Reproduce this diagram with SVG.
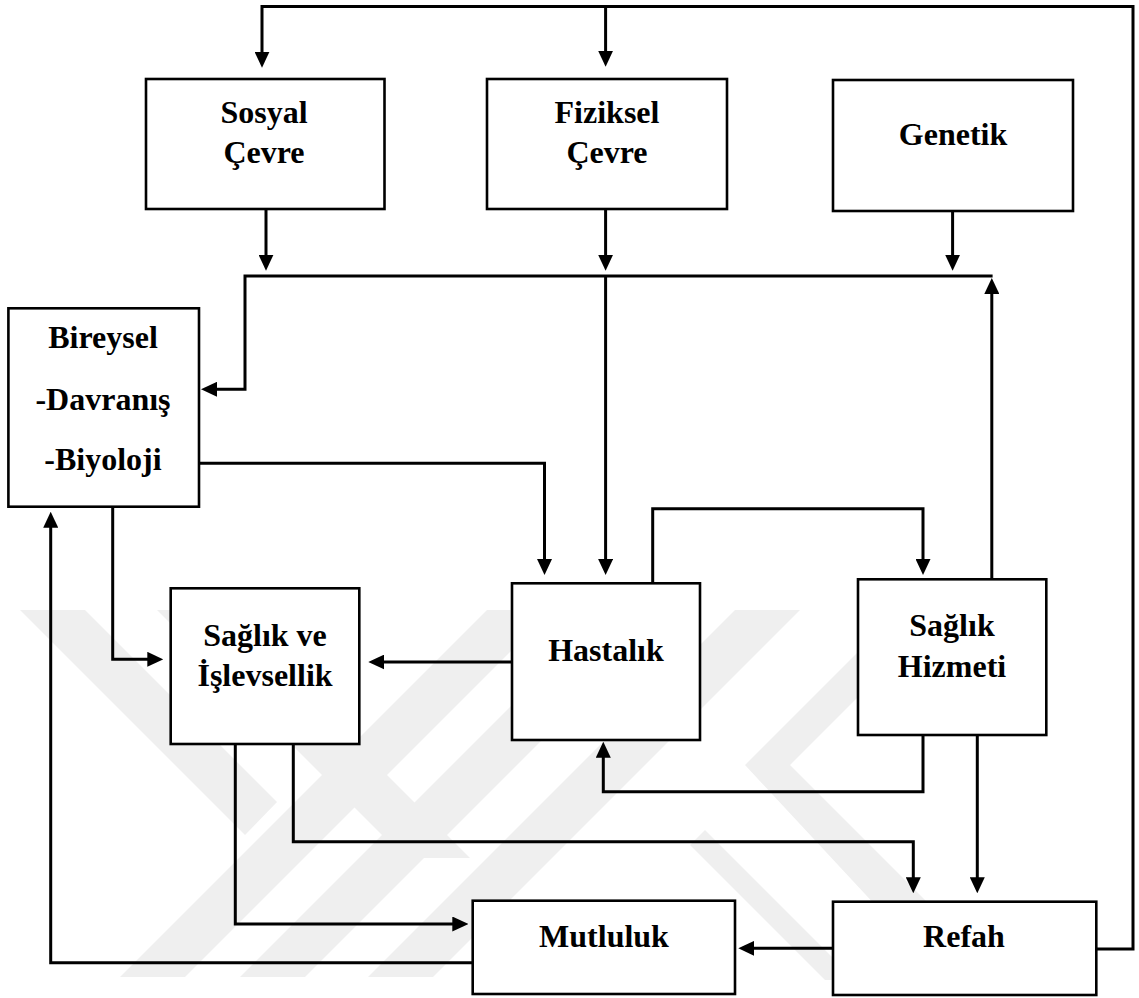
<svg xmlns="http://www.w3.org/2000/svg" width="1139" height="998" viewBox="0 0 1139 998">
  <style>
    .box { fill: #ffffff; stroke: #000000; stroke-width: 2.6; }
    .lbl { font-family: "Liberation Serif", "Times New Roman", serif; font-weight: bold; font-size: 32px; fill: #000000; text-anchor: middle; }
    .wire { fill: none; stroke: #000000; stroke-width: 3; stroke-linejoin: miter; }
    .arr { marker-end: url(#ah); }
    .wm { fill: #efefef; stroke: none; }
  </style>
  <defs>
    <marker id="ah" markerUnits="userSpaceOnUse" viewBox="0 0 16 15" markerWidth="16" markerHeight="15" refX="2" refY="7.5" orient="auto">
      <path d="M0,0 L16,7.5 L0,15 Z" fill="#000000"/>
    </marker>
  </defs>
  <rect width="1139" height="998" fill="#ffffff"/>

  <g id="watermark">
    <polygon class="wm" points="20,610 85,610 277,802 245,835"/>
    <polygon class="wm" points="157,610 222,610 470,858 405,858"/>
    <polygon class="wm" points="120,977 185,977 552,610 487,610"/>
    <polygon class="wm" points="240,977 305,977 672,610 607,610"/>
    <polygon class="wm" points="368,977 433,977 800,610 735,610"/>
    <polygon class="wm" points="745,765 880,630 925,630 790,765 975,950 975,980 945,980"/>
    <polygon class="wm" points="690,845 705,830 855,980 825,980"/>
  </g>

  <g id="connectors">
    <path class="wire arr" d="M1096,949 H1133 V6.5 H262 V53.7"/>
    <path class="wire arr" d="M605.6,6.5 V52.7"/>
    <path class="wire arr" d="M266,209 V256.7"/>
    <path class="wire arr" d="M605.6,209 V256.7"/>
    <path class="wire arr" d="M952.6,211 V256.7"/>
    <path class="wire arr" d="M992.6,276 H245 V389.3 H215"/>
    <path class="wire arr" d="M605.6,276 V561"/>
    <path class="wire arr" d="M991.8,579.3 V292"/>
    <path class="wire arr" d="M199,463.3 H544.5 V561"/>
    <path class="wire arr" d="M112.7,506.7 V659.3 H149.3"/>
    <path class="wire arr" d="M512,662 H382.3"/>
    <path class="wire arr" d="M652.7,583.3 V508.7 H923 V561"/>
    <path class="wire arr" d="M923,735 V791.7 H603.3 V755.7"/>
    <path class="wire arr" d="M977.3,735 V879.3"/>
    <path class="wire arr" d="M293.3,744 V841.7 H913.3 V879.3"/>
    <path class="wire arr" d="M235.3,744 V924 H454.3"/>
    <path class="wire arr" d="M472.7,962.7 H50.7 V525.7"/>
    <path class="wire arr" d="M833,948.3 H752.3"/>
  </g>

  <g id="sosyal-cevre">
    <rect class="box" x="146" y="79" width="238.5" height="130"/>
    <text class="lbl" x="264" y="123.3">Sosyal</text>
    <text class="lbl" x="264" y="163.3">Çevre</text>
  </g>
  <g id="fiziksel-cevre">
    <rect class="box" x="487" y="79" width="240" height="130"/>
    <text class="lbl" x="607" y="123.3">Fiziksel</text>
    <text class="lbl" x="607" y="163.3">Çevre</text>
  </g>
  <g id="genetik">
    <rect class="box" x="833" y="80" width="240" height="131"/>
    <text class="lbl" x="953" y="145">Genetik</text>
  </g>
  <g id="bireysel">
    <rect class="box" x="8.4" y="308.3" width="190.6" height="198.4"/>
    <text class="lbl" x="103" y="348.3">Bireysel</text>
    <text class="lbl" x="103" y="410">-Davranış</text>
    <text class="lbl" x="103" y="470">-Biyoloji</text>
  </g>
  <g id="saglik-islevsellik">
    <rect class="box" x="170.7" y="588.3" width="188.6" height="155.7"/>
    <text class="lbl" x="265" y="646">Sağlık ve</text>
    <text class="lbl" x="265" y="686">İşlevsellik</text>
  </g>
  <g id="hastalik">
    <rect class="box" x="512" y="583.3" width="188" height="156.7"/>
    <text class="lbl" x="606" y="660.7">Hastalık</text>
  </g>
  <g id="saglik-hizmeti">
    <rect class="box" x="858" y="579.3" width="188.3" height="155.7"/>
    <text class="lbl" x="952" y="636">Sağlık</text>
    <text class="lbl" x="952" y="676.7">Hizmeti</text>
  </g>
  <g id="mutluluk">
    <rect class="box" x="472.7" y="900.7" width="262.3" height="93.3"/>
    <text class="lbl" x="604" y="946.7">Mutluluk</text>
  </g>
  <g id="refah">
    <rect class="box" x="833" y="901.7" width="263.3" height="93.3"/>
    <text class="lbl" x="964" y="946.7">Refah</text>
  </g>
</svg>
